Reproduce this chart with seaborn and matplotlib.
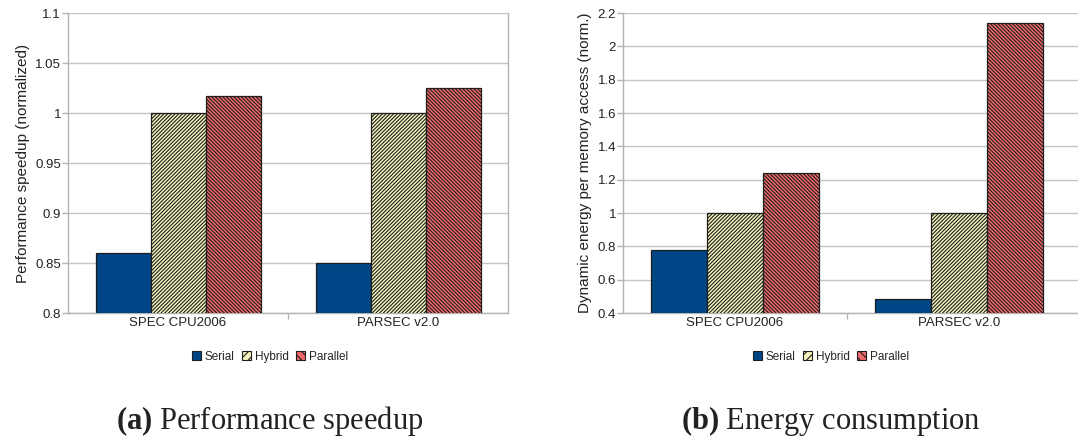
import matplotlib
matplotlib.use("Agg")
import matplotlib.pyplot as plt
import seaborn as sns
import pandas as pd
import numpy as np
from matplotlib.patches import Patch
from matplotlib.ticker import FormatStrFormatter, MultipleLocator, FixedLocator

benchmarks = ["SPEC CPU2006", "PARSEC v2.0"]
configs = ["Serial", "Hybrid", "Parallel"]
speedup_serial = [0.86, 0.85]
speedup_hybrid = [1.0, 1.0]
speedup_parallel = [1.017, 1.025]
energy_serial = [0.78, 0.485]
energy_hybrid = [1.0, 1.0]
energy_parallel = [1.24, 2.14]

colors = {"Serial": "#004586", "Hybrid": "#f4f4bc", "Parallel": "#f46a6a"}
hatches = {"Serial": "", "Hybrid": "/" * 9, "Parallel": "\\" * 9}

sns.set_theme(style="white")
plt.rcParams["font.family"] = ["Liberation Sans", "DejaVu Sans"]
plt.rcParams["hatch.linewidth"] = 0.8
plt.rcParams["hatch.color"] = "#222222"
plt.rcParams["mathtext.fontset"] = "custom"
plt.rcParams["mathtext.bf"] = "Liberation Serif:bold"
plt.rcParams["mathtext.rm"] = "Liberation Serif"

def make_df(s, h, p):
    rows = []
    for i, b in enumerate(benchmarks):
        rows.append((b, "Serial", s[i]))
        rows.append((b, "Hybrid", h[i]))
        rows.append((b, "Parallel", p[i]))
    return pd.DataFrame(rows, columns=["bench", "config", "value"])

df_a = make_df(speedup_serial, speedup_hybrid, speedup_parallel)
df_b = make_df(energy_serial, energy_hybrid, energy_parallel)

W, H = 1078, 441
fig = plt.figure(figsize=(W / 100, H / 100), dpi=100)
bot = 1 - 313 / H
top = 1 - 13 / H
ax1 = fig.add_axes([68 / W, bot, (508 - 68) / W, top - bot])
ax2 = fig.add_axes([623 / W, bot, (1090 - 623) / W, top - bot])

def draw(ax, df, ylim, step, ylabel, xmax):
    sns.barplot(data=df, x="bench", y="value", hue="config", hue_order=configs,
                palette=colors, saturation=1, width=0.75, edgecolor="#1e1e1e",
                linewidth=0.9, ax=ax, legend=False, zorder=3)
    for cont, cfg in zip(ax.containers, configs):
        for bar in cont:
            bar.set_hatch(hatches[cfg])
    ax.set_ylim(*ylim)
    ax.set_xlim(-0.5, xmax)
    ax.yaxis.set_major_locator(MultipleLocator(step))
    ax.yaxis.set_major_formatter(FormatStrFormatter("%g"))
    ax.grid(axis="y", color="#c4c4c4", linewidth=1.0, zorder=0)
    ax.set_axisbelow(True)
    for s in ["left", "bottom", "right", "top"]:
        ax.spines[s].set_color("#b3b3b3")
        ax.spines[s].set_linewidth(1.0)
    ax.spines["top"].set_visible(False)
    ax.set_xlabel("")
    ax.set_ylabel(ylabel, fontsize=11, color="#222222", labelpad=4)
    ax.tick_params(axis="y", which="major", length=4, width=1, color="#b3b3b3",
                   labelsize=9.5, labelcolor="#222222", pad=1, left=True)
    ax.tick_params(axis="x", which="major", length=0, labelsize=9.5,
                   labelcolor="#222222", pad=3)
    ax.xaxis.set_minor_locator(FixedLocator([0.5]))
    ax.tick_params(axis="x", which="minor", length=4, width=1, color="#b3b3b3",
                   bottom=True)

draw(ax1, df_a, (0.8, 1.1), 0.05, "Performance speedup (normalized)", 1.5)
draw(ax2, df_b, (0.4, 2.2), 0.2, "Dynamic energy per memory access (norm.)",
     -0.5 + (1090 - 623) / 224)
ax2.spines["right"].set_visible(False)

handles = [Patch(facecolor=colors[c], edgecolor="#1e1e1e", hatch=hatches[c][:4],
                 linewidth=0.8, label=c) for c in configs]
for cx in (270, 831):
    fig.legend(handles=handles, loc="center", bbox_to_anchor=(cx / W, 1 - 357 / H),
               ncol=3, frameon=False, fontsize=8.5, handlelength=0.8,
               handleheight=0.8, handletextpad=0.3, columnspacing=0.6,
               borderpad=0)

for cx, tag, txt in ((270, "(a)", "Performance speedup"),
                     (831, "(b)", "Energy consumption")):
    fig.text(cx / W, 1 - 421 / H,
             r"$\mathbf{" + tag + "}$ " + txt, ha="center", va="center",
             fontsize=22, family=["Liberation Serif", "DejaVu Serif"],
             color="#222222")

fig.savefig("out.png", dpi=100)
